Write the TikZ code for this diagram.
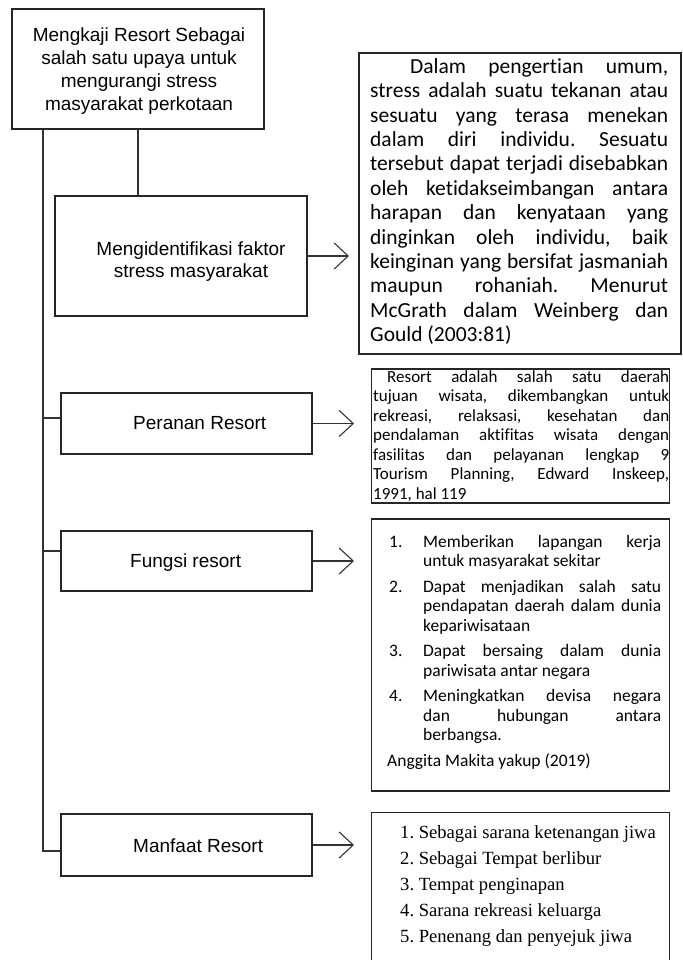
\documentclass[tikz,border=0pt]{standalone}
\usepackage{fontspec}
\setmainfont{Liberation Sans}
\newfontfamily\calib[Ligatures=NoCommon]{Carlito}
\newfontfamily\tms{Liberation Serif}
\usetikzlibrary{arrows.meta}
\newcommand\jline[1]{\noindent\makebox[\linewidth][s]{#1}\par}
\newcommand\lline[1]{\noindent #1\par}
\frenchspacing
\begin{document}
\frenchspacing
\begin{tikzpicture}[x=1pt,y=-1pt,
  box/.style={draw=black!85, line width=1.1pt, inner sep=0pt},
  conn/.style={draw=black!80, line width=1.1pt},
  arr/.style={conn, -{Straight Barb[length=14pt,width=26pt]}},
  txt/.style={inner sep=0pt, anchor=base west},
  sansf/.style={font=\fontsize{19}{22.5}\selectfont},
  ]
\useasboundingbox (0,0) rectangle (682,960);
% boxes
\node[box, minimum width=252pt, minimum height=120pt] (top) at (138,69) {};
\node[box, minimum width=252pt, minimum height=120pt] (idbox) at (181,256) {};
\node[box, minimum width=322pt, minimum height=301pt] (bigbox) at (520,203.5) {};
\node[box, minimum width=251pt, minimum height=61pt] (pbox) at (186.5,423.5) {};
\node[box, minimum width=298pt, minimum height=134pt] (ptext) at (520.5,436) {};
\node[box, minimum width=251pt, minimum height=60pt] (fbox) at (186.5,561) {};
\node[box, minimum width=298pt, minimum height=272pt] (ftext) at (520.5,655) {};
\node[box, minimum width=251pt, minimum height=62pt] (mbox) at (186.5,845) {};
\node[inner sep=0pt, minimum width=298pt, minimum height=147pt] (mtext) at (520.5,886.5) {};
\draw[box] (mtext.south west) -- (mtext.north west) -- (mtext.north east) -- (mtext.south east);
% left texts
\node[inner sep=0pt, anchor=base, sansf] (toptxt) at (139,42) {\parbox[t]{250pt}{\centering\fontsize{19}{22.7}\selectfont Mengkaji Resort Sebagai\\ salah satu upaya untuk\\ mengurangi stress\\ masyarakat perkotaan}};
\node[inner sep=0pt, anchor=base, sansf] (idtxt) at (191,255) {\parbox[t]{240pt}{\centering\fontsize{19}{22}\selectfont Mengidentifikasi faktor\\ stress masyarakat}};
\node[txt, sansf] (ptxt) at (133,429) {Peranan Resort};
\node[txt, sansf] (ftxt) at (130,567) {Fungsi resort};
\node[txt, sansf] (mtxt) at (133,852) {Manfaat Resort};
% big text
\node[txt] (bigtxt) at (370,73.3) {\parbox[t]{298pt}{\calib\fontsize{21.5}{24.4}\selectfont\parindent0pt\frenchspacing
\noindent\hspace*{40pt}\makebox[258pt][s]{Dalam pengertian umum,}\par
\jline{stress adalah suatu tekanan atau}
\jline{sesuatu yang terasa menekan}
\jline{dalam diri individu. Sesuatu}
\jline{tersebut dapat terjadi disebabkan}
\jline{oleh ketidakseimbangan antara}
\jline{harapan dan kenyataan yang}
\jline{dinginkan oleh individu, baik}
\jline{keinginan yang bersifat jasmaniah}
\jline{maupun rohaniah. Menurut}
\jline{McGrath dalam Weinberg dan}
\lline{Gould (2003:81)}}};
% peranan text
\node[txt] (pertxt) at (373,382) {\parbox[t]{296pt}{\calib\fontsize{17}{19.5}\selectfont\parindent0pt\frenchspacing
\noindent\hspace*{14pt}\makebox[282pt][s]{Resort adalah salah satu daerah}\par
\jline{tujuan wisata, dikembangkan untuk}
\jline{rekreasi, relaksasi, kesehatan dan}
\jline{pendalaman aktifitas wisata dengan}
\jline{fasilitas dan pelayanan lengkap 9}
\jline{Tourism Planning, Edward Inskeep,}
\lline{1991, hal 119}}};
% fungsi text
\node[txt] (funtxt) at (389,547) {\parbox[t]{272pt}{\calib\fontsize{17.5}{19.5}\selectfont\parindent0pt\frenchspacing
\noindent\makebox[34pt][l]{1.}\makebox[238pt][s]{Memberikan lapangan kerja}\par
\noindent\hspace*{34pt}untuk masyarakat sekitar\par
\vspace{6pt}
\noindent\makebox[34pt][l]{2.}\makebox[238pt][s]{Dapat menjadikan salah satu}\par
\noindent\hspace*{34pt}\makebox[238pt][s]{pendapatan daerah dalam dunia}\par
\noindent\hspace*{34pt}kepariwisataan\par
\vspace{6pt}
\noindent\makebox[34pt][l]{3.}\makebox[238pt][s]{Dapat bersaing dalam dunia}\par
\noindent\hspace*{34pt}pariwisata antar negara\par
\vspace{6pt}
\noindent\makebox[34pt][l]{4.}\makebox[238pt][s]{Meningkatkan devisa negara}\par
\noindent\hspace*{34pt}\makebox[238pt][s]{dan hubungan antara}\par
\noindent\hspace*{34pt}berbangsa.\par
\vspace{6pt}
\noindent\hspace*{-2pt}Anggita Makita yakup (2019)\par}};
% manfaat text
\node[txt] (mantxt) at (400,838) {\parbox[t]{265pt}{\tms\fontsize{18.6}{26}\selectfont\raggedright\frenchspacing
1. Sebagai sarana ketenangan jiwa\\
2. Sebagai Tempat berlibur\\
3. Tempat penginapan\\
4. Sarana rekreasi keluarga\\
5. Penenang dan penyejuk jiwa}};
% connectors
\coordinate (t1) at (43,851);
\coordinate (bp) at (43,418);
\coordinate (bf) at (43,551);
\draw[conn] (top.south -| t1) -- (t1) -- (t1 -| mbox.west);
\draw[conn] (bp) -- (bp -| pbox.west);
\draw[conn] (bf) -- (bf -| fbox.west);
\draw[conn] (top.south) -- (top.south |- idbox.north);
\coordinate (a0) at (349,256);
\coordinate (a1) at (354,423.5);
\coordinate (a2) at (354,561);
\coordinate (a3) at (354,845);
\draw[arr] (idbox.east) -- (a0);
\draw[arr] (pbox.east) -- (a1);
\draw[arr] (fbox.east) -- (a2);
\draw[arr] (mbox.east) -- (a3);
\end{tikzpicture}
\end{document}
